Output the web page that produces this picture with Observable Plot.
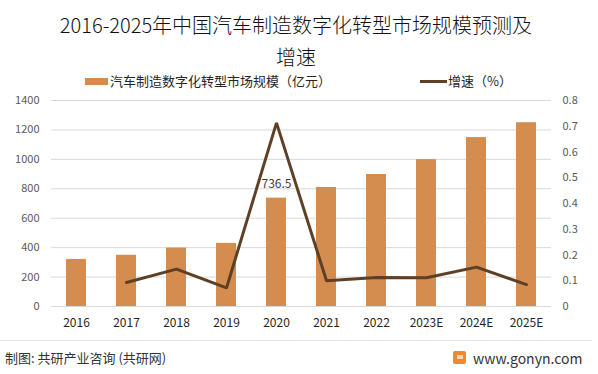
<!DOCTYPE html>
<html>
<head>
<meta charset="utf-8">
<script src="https://cdn.jsdelivr.net/npm/d3@7"></script>
<script src="https://cdn.jsdelivr.net/npm/@observablehq/plot@0.6"></script>
<style>
  html, body { margin: 0; padding: 0; background: #fff; }
  #wrap { position: relative; width: 598px; height: 374px; overflow: hidden; font-family: "Noto Sans CJK SC", "Noto Sans", sans-serif; }
  #chart { position: absolute; left: 0; top: 0; }
  .title { position: absolute; left: 0; top: 9px; width: 592px; text-align: center; font-size: 20px; line-height: 32px; color: #111; font-weight: 300; }
  .legend { position: absolute; top: 72px; font-size: 13px; color: #262626; line-height: 18px; white-space: nowrap; }
  .sw-bar { display: inline-block; width: 23px; height: 7px; vertical-align: middle; margin-right: 2px; position: relative; top: -1px; }
  .sw-line { display: inline-block; width: 27px; height: 3px; vertical-align: middle; margin-right: 1px; position: relative; top: -1px; }
  .footer-line { position: absolute; left: 0; top: 340px; width: 592px; height: 1px; background: #e6e6e6; }
  .footer { position: absolute; top: 349px; font-size: 13px; color: #333; line-height: 18px; white-space: nowrap; }
  .logo { position: absolute; left: 453px; top: 351px; width: 13px; height: 13px; border-radius: 2px; background: #f08a2c; }
  .logo::after { content: ""; position: absolute; left: 4px; top: 4px; width: 6px; height: 4px; background: #fbd6b0; }
</style>
</head>
<body>
<div id="wrap">
  <div id="chart"></div>
  <div class="title">2016-2025年中国汽车制造数字化转型市场规模预测及<br>增速</div>
  <div class="legend" style="left:85px;"><span class="sw-bar" id="swBar"></span>汽车制造数字化转型市场规模（亿元）</div>
  <div class="legend" style="left:420px;"><span class="sw-line" id="swLine"></span>增速（%）</div>
  <div class="footer-line"></div>
  <div class="footer" style="left:5px;">制图: 共研产业咨询 (共研网)</div>
  <div class="logo"></div>
  <div class="footer" style="left:473px; font-size:14px;">www.gonyn.com</div>
</div>
<script>
// ---- data ----
const years = ["2016", "2017", "2018", "2019", "2020", "2021", "2022", "2023E", "2024E", "2025E"];
const marketSize = [320, 348, 397, 429, 736.5, 809, 897, 998, 1148, 1249];
const growthRate = [null, 0.093, 0.145, 0.072, 0.713, 0.100, 0.113, 0.112, 0.153, 0.085];
const leftTicks = [0, 200, 400, 600, 800, 1000, 1200, 1400];
const rightTicks = ["0", "0.1", "0.2", "0.3", "0.4", "0.5", "0.6", "0.7", "0.8"];
const labeledYear = "2020";
const labeledText = "736.5";

// ---- styles ----
const barColor = "#d48d4f";
const lineColor = "#5e4027";
const gridColor = "#d9d9d9";
const rightMax = 0.8;
const leftMax = 1400;
const k = leftMax / rightMax; // map growth onto left scale

document.getElementById("swBar").style.background = barColor;
document.getElementById("swLine").style.background = lineColor;

const barData = years.map((y, i) => ({ year: y, size: marketSize[i] }));
const lineData = years.map((y, i) => ({ year: y, g: growthRate[i] })).filter(d => d.g != null);
const labelData = barData.filter(d => d.year === labeledYear).map(d => ({ ...d, text: labeledText }));

const chart = Plot.plot({
  width: 598,
  height: 374,
  marginTop: 100,
  marginBottom: 68,
  marginLeft: 51,
  marginRight: 47,
  style: { fontFamily: '"Noto Sans CJK SC", "Noto Sans", sans-serif', background: "transparent" },
  x: { type: "band", domain: years, paddingInner: 0.6, paddingOuter: 0.3, label: null },
  y: { domain: [0, leftMax], label: null },
  marks: [
    Plot.gridY(leftTicks, { stroke: gridColor, strokeOpacity: 1, strokeWidth: 1 }),
    Plot.barY(barData, { x: "year", y: "size", fill: barColor }),
    Plot.lineY(lineData, { x: "year", y: d => d.g * k, stroke: lineColor, strokeWidth: 3, strokeLinejoin: "miter" }),
    Plot.text(labelData, { x: "year", y: "size", text: "text", dy: -14, fontSize: 12, fill: "#404040" }),
    Plot.axisY({ anchor: "left", ticks: leftTicks, tickFormat: d => String(d), tickSize: 0, tickPadding: 12, fontSize: 11, color: "#595959", label: null }),
    Plot.axisY({ anchor: "right", ticks: rightTicks.map(v => Number(v) * k), tickFormat: d => rightTicks[Math.round(d / (0.1 * k))], tickSize: 0, tickPadding: 11, fontSize: 11, color: "#595959", label: null }),
    Plot.axisX({ anchor: "bottom", tickSize: 0, tickPadding: 12, fontSize: 12, color: "#262626", label: null })
  ]
});
document.getElementById("chart").appendChild(chart);
</script>
</body>
</html>
